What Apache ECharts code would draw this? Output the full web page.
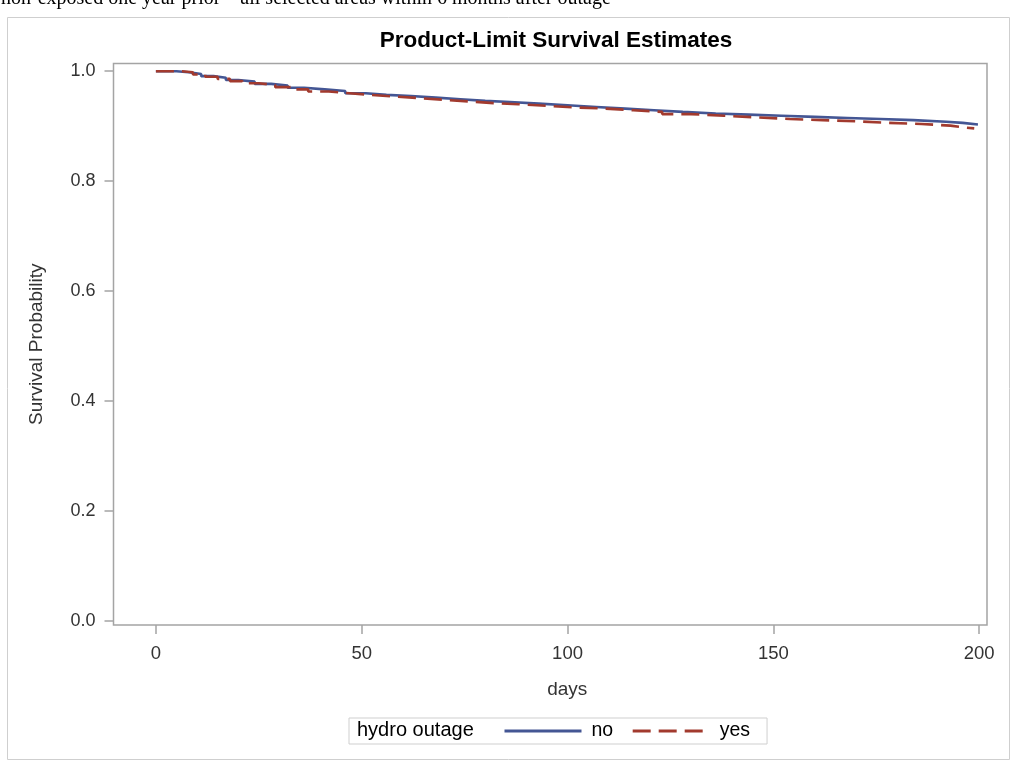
<!DOCTYPE html>
<html>
<head>
<meta charset="utf-8">
<title>Product-Limit Survival Estimates</title>
<script src="https://cdn.jsdelivr.net/npm/echarts@6/dist/echarts.min.js"></script>
<style>
  html, body { margin: 0; padding: 0; background: #ffffff; }
  #chart { width: 1013px; height: 761px; }
</style>
</head>
<body>
<div id="chart"></div>
<script>
// Kaplan-Meier step estimates by hydro outage group (day of drop, survival after drop)
const noDays  = [0, 5, 8, 11, 14, 17, 20, 24, 28, 32, 36, 41, 46, 51, 56, 62, 68, 74, 80, 86, 93, 100, 107, 114, 121, 128, 136, 144, 152, 160, 168, 176, 184, 192, 196, 199.7];
const noSurv  = [1.000, 0.998, 0.995, 0.991, 0.988, 0.984, 0.981, 0.977, 0.974, 0.970, 0.967, 0.964, 0.960, 0.957, 0.955, 0.952, 0.949, 0.946, 0.944, 0.941, 0.938, 0.935, 0.932, 0.929, 0.926, 0.923, 0.921, 0.919, 0.917, 0.915, 0.913, 0.911, 0.908, 0.906, 0.903, 0.903];
const yesDays = [0, 6, 9, 12, 15, 18, 21, 25, 29, 33, 37, 42, 47, 52, 58, 64, 70, 76, 82, 88, 95, 102, 109, 116, 123, 130, 138, 146, 154, 162, 170, 178, 186, 193, 196, 198.8];
const yesSurv = [1.000, 0.998, 0.994, 0.990, 0.986, 0.982, 0.978, 0.975, 0.971, 0.967, 0.963, 0.960, 0.957, 0.954, 0.951, 0.948, 0.945, 0.942, 0.940, 0.937, 0.934, 0.932, 0.929, 0.926, 0.922, 0.919, 0.916, 0.913, 0.911, 0.909, 0.906, 0.904, 0.901, 0.898, 0.896, 0.896];

const groupNames = ['no', 'yes'];
const xTicks = [0, 50, 100, 150, 200];
const yTicks = [0.0, 0.2, 0.4, 0.6, 0.8, 1.0];

const subtitleText = 'non-exposed one year prior \u2013 all selected areas within 6 months after outage';
const titleText = 'Product-Limit Survival Estimates';
const legendTitle = 'hydro outage';

const pairs = (xs, ys) => xs.map((x, i) => [x, ys[i]]);

const SANS = '"Liberation Sans", Arial, Helvetica, sans-serif';
const AXIS_GRAY = '#a4a4a4';

const chart = echarts.init(document.getElementById('chart'), null, { renderer: 'canvas' });

chart.setOption({
  animation: false,
  backgroundColor: '#ffffff',
  title: {
    text: titleText,
    left: 551,
    top: 24,
    textAlign: 'center',
    textStyle: { fontFamily: SANS, fontSize: 22.5, fontWeight: 'bold', color: '#000000' }
  },
  graphic: [
    {
      type: 'rect',
      silent: true,
      shape: { x: 7.5, y: 17.5, width: 1002, height: 742 },
      style: { fill: 'none', stroke: '#cfcfcf', lineWidth: 1 }
    },
    {
      type: 'text',
      silent: true,
      left: 1,
      top: -11,
      style: {
        text: subtitleText,
        font: '20px "Liberation Serif", "Times New Roman", serif',
        fill: '#000000'
      }
    },
    {
      type: 'text',
      silent: true,
      left: 357,
      top: 720,
      style: {
        text: legendTitle,
        font: '20px ' + SANS,
        fill: '#000000'
      }
    }
  ],
  legend: {
    data: groupNames,
    left: 349,
    top: 718,
    orient: 'horizontal',
    padding: [3, 17, 3, 154],
    itemWidth: 77,
    itemHeight: 14,
    itemGap: 18,
    borderColor: '#cfcfcf',
    borderWidth: 1,
    borderRadius: 0,
    itemStyle: { opacity: 0 },
    lineStyle: { width: 3 },
    textStyle: { fontFamily: SANS, fontSize: 19.5, color: '#000000', padding: [0, 0, 0, 5] }
  },
  grid: {
    left: 113.5,
    top: 63.5,
    right: 26,
    bottom: 136,
    show: true,
    borderColor: AXIS_GRAY,
    borderWidth: 1.5,
    backgroundColor: 'transparent',
    containLabel: false
  },
  xAxis: {
    type: 'value',
    min: -10.3,
    max: 201.9,
    name: 'days',
    nameLocation: 'middle',
    nameGap: 55,
    nameTextStyle: { fontFamily: SANS, fontSize: 19, color: '#333333', padding: [0, 0, 0, 34] },
    axisLine: { show: false, onZero: false },
    splitLine: { show: false },
    axisTick: {
      show: true,
      inside: false,
      length: 9,
      customValues: xTicks,
      lineStyle: { color: AXIS_GRAY, width: 1.5 }
    },
    axisLabel: {
      customValues: xTicks,
      margin: 19,
      fontFamily: SANS,
      fontSize: 18.5,
      color: '#333333',
      formatter: v => String(v)
    }
  },
  yAxis: {
    type: 'value',
    min: -0.0073,
    max: 1.014,
    name: 'Survival Probability',
    nameLocation: 'middle',
    nameRotate: 90,
    nameGap: 67,
    nameTextStyle: { fontFamily: SANS, fontSize: 19, color: '#333333' },
    axisLine: { show: false, onZero: false },
    splitLine: { show: false },
    axisTick: {
      show: true,
      inside: false,
      length: 9,
      customValues: yTicks,
      lineStyle: { color: AXIS_GRAY, width: 1.5 }
    },
    axisLabel: {
      customValues: yTicks,
      margin: 18,
      fontFamily: SANS,
      fontSize: 18,
      color: '#333333',
      formatter: v => v.toFixed(1)
    }
  },
  series: [
    {
      name: groupNames[0],
      type: 'line',
      step: 'end',
      showSymbol: false,
      symbol: 'none',
      data: pairs(noDays, noSurv),
      lineStyle: { color: '#445694', width: 2.6 },
      itemStyle: { color: '#445694' },
      z: 2
    },
    {
      name: groupNames[1],
      type: 'line',
      step: 'end',
      showSymbol: false,
      symbol: 'none',
      data: pairs(yesDays, yesSurv),
      lineStyle: { color: '#A23A2E', width: 2.6, type: [18, 8] },
      itemStyle: { color: '#A23A2E' },
      z: 3
    }
  ]
});
</script>
</body>
</html>
